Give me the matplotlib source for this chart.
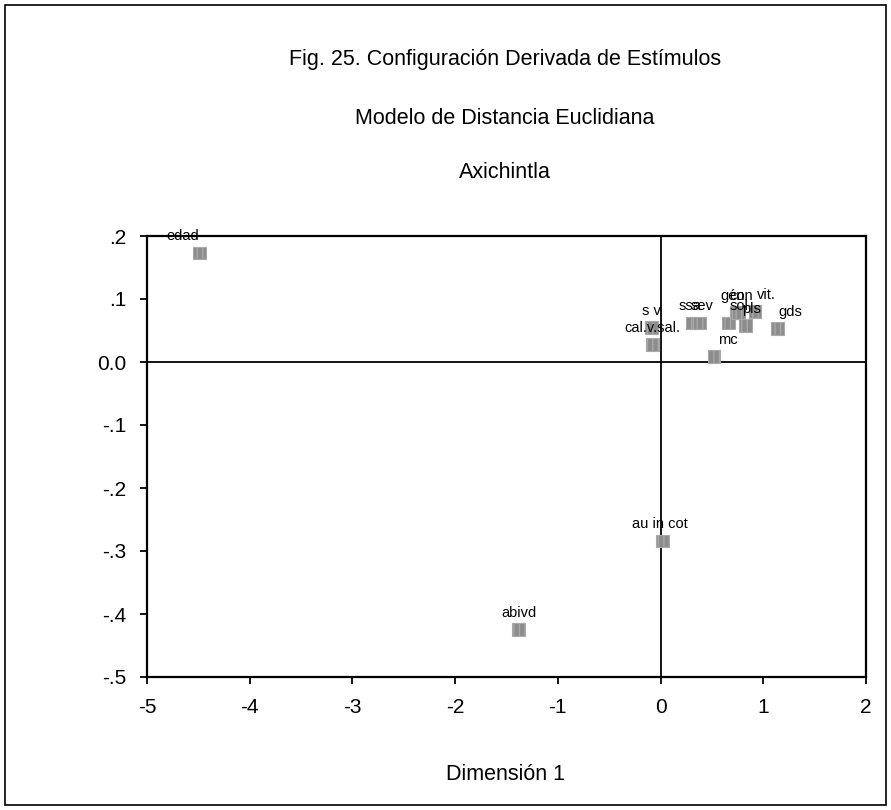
import matplotlib
matplotlib.use("Agg")
import matplotlib.pyplot as plt
from matplotlib import font_manager
from matplotlib.patches import Rectangle

names = {f.name for f in font_manager.fontManager.ttflist}
FONT = "Liberation Sans Narrow" if "Liberation Sans Narrow" in names else "Liberation Sans"
plt.rcParams['font.family'] = [FONT, 'DejaVu Sans']

# Data
labels = ["edad", "abivd", "au in cot", "s v", "cal.v.sal.", "ssa", "sev", "mc",
          "sol", "gén", "con", "pls", "vit.", "gds"]
dim1 = [-4.49, -1.38, 0.02, -0.09, -0.08, 0.31, 0.38, 0.52,
        0.66, 0.74, 0.76, 0.83, 0.92, 1.14]
dim2 = [0.173, -0.425, -0.284, 0.055, 0.028, 0.062, 0.062, 0.009,
        0.062, 0.079, 0.079, 0.058, 0.080, 0.053]
xticks = [-5, -4, -3, -2, -1, 0, 1, 2]
yticks = [-0.5, -0.4, -0.3, -0.2, -0.1, 0.0, 0.1, 0.2]
ytick_labels = ["-.5", "-.4", "-.3", "-.2", "-.1", "0.0", ".1", ".2"]

# label offsets in points (style only)
label_dx = [-12, 0, -2, 0, 0, -2, 2, 10, 8, -3, 2, 4, 8, 9]

fig = plt.figure(figsize=(8.91, 8.10), dpi=100)
fig.patches.append(Rectangle((5/891, 5/810), 881/891, 800/810, transform=fig.transFigure,
                             fill=False, edgecolor='black', linewidth=1.2))

ax = fig.add_axes([147/891, 1 - 677/810, (866-147)/891, (677-236)/810])
ax.set_xlim(-5, 2)
ax.set_ylim(-0.5, 0.2)
ax.axhline(0, color='black', linewidth=1.3, zorder=1)
ax.axvline(0, color='black', linewidth=1.3, zorder=1)

ax.scatter(dim1, dim2, marker='s', s=85, color='#8c8c8c', edgecolors='#a8a8a8',
           linewidths=0.8, hatch='|||', zorder=3)
for lab, x, y, dx in zip(labels, dim1, dim2, label_dx):
    ax.annotate(lab, (x, y), xytext=(dx, 7), textcoords='offset points',
                ha='center', va='bottom', fontsize=10.5, zorder=4)

ax.set_xticks(xticks)
ax.set_xticklabels([str(t) for t in xticks])
ax.set_yticks(yticks)
ax.set_yticklabels(ytick_labels)
ax.tick_params(labelsize=15, length=5, width=1.3, direction='out', pad=10)
for s in ax.spines.values():
    s.set_linewidth(1.6)

title_kw = dict(ha='center', va='center', fontsize=15.5)
fig.text(505/891, 1 - 60/810, "Fig. 25. Configuración Derivada de Estímulos", **title_kw)
fig.text(505/891, 1 - 118/810, "Modelo de Distancia Euclidiana", **title_kw)
fig.text(505/891, 1 - 173/810, "Axichintla", **title_kw)
fig.text(505/891, 1 - 775/810, "Dimensión 1", **title_kw)

fig.savefig("out.png", dpi=100)
